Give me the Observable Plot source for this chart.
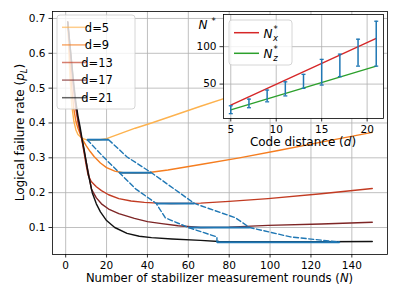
<!DOCTYPE html>
<html><head><meta charset="utf-8">
<script src="https://cdn.jsdelivr.net/npm/d3@7"></script>
<script src="https://cdn.jsdelivr.net/npm/@observablehq/plot@0.6"></script>
<style>
body{margin:0;background:#fff;}
#wrap{position:relative;width:399px;height:299px;font-family:"DejaVu Sans";}
#wrap svg{position:absolute;left:0;top:0;}
</style></head>
<body><div id="wrap"></div>
<script>
// ---- main chart data: logical failure rate vs rounds ----
const distances = [5, 9, 13, 17, 21];
const lineColors = ["#fdb24e", "#f57d1f", "#c23b22", "#7d2525", "#111111"];
const curveD5 = [[1,0.69],[2,0.54],[3,0.45],[4,0.405],[5,0.38],[6,0.367],[8,0.356],[10,0.352],[13,0.35],[17,0.352],[20,0.355],[26,0.368],[34,0.385],[42,0.4],[56,0.428],[66,0.448],[80,0.475],[100,0.513],[125,0.56],[150,0.606]];
const curveD9 = [[1,0.69],[2,0.59],[3,0.5],[4,0.44],[5,0.405],[6,0.385],[7,0.37],[8,0.355],[9,0.345],[10,0.335],[12,0.318],[14,0.303],[17,0.285],[20,0.272],[24,0.262],[28,0.257],[34,0.256],[40,0.257],[50,0.265],[66,0.281],[85,0.3],[104,0.321],[125,0.345],[150,0.373]];
const curveD13 = [[1,0.69],[2,0.62],[3,0.55],[4,0.49],[5,0.44],[6,0.405],[7,0.375],[8,0.35],[9,0.315],[10,0.28],[11,0.25],[12.5,0.232],[15,0.217],[17.5,0.206],[21,0.194],[26,0.183],[32,0.176],[38.5,0.172],[45,0.17],[51.5,0.169],[66,0.17],[80,0.175],[99,0.183],[125,0.197],[150,0.212]];
const curveD17 = [[1,0.69],[2,0.63],[3,0.565],[4,0.5],[5,0.45],[6,0.41],[7,0.38],[8,0.35],[9,0.32],[10,0.29],[11,0.26],[12.6,0.21],[15,0.185],[17.5,0.168],[21,0.153],[26,0.14],[33.6,0.126],[40,0.117],[47,0.111],[55,0.105],[66,0.1],[80,0.101],[99,0.106],[125,0.11],[150,0.115]];
const curveD21 = [[1,0.69],[2,0.63],[3,0.57],[4,0.51],[5,0.46],[6,0.42],[7,0.39],[8,0.355],[9,0.325],[10,0.29],[11,0.255],[12,0.228],[13,0.2],[15,0.168],[17,0.145],[20,0.12],[24,0.1],[30,0.083],[36,0.075],[42,0.071],[52,0.067],[66,0.063],[75,0.06],[100,0.059],[125,0.059],[150,0.06]];
const curves = [curveD5, curveD9, curveD13, curveD17, curveD21];
const xTicks = [0, 20, 40, 60, 80, 100, 120, 140];
const yTicks = [0.1, 0.2, 0.3, 0.4, 0.5, 0.6, 0.7];

// ---- optimal-rounds window per distance (inset + blue marks) ----
const insetD = [5, 7, 9, 11, 13, 15, 17, 19, 21];
const nLower = [10.5, 18.4, 26.3, 34.2, 44.3, 48.7, 60, 74, 74];
const nUpper = [21, 29.9, 42, 53, 63, 83, 90, 110, 134];
const pMin = [0.352, 0.303, 0.257, 0.211, 0.169, 0.128, 0.100, 0.073, 0.058];
const fitD = [5, 21];
const fitNx = [22, 111];
const fitNz = [15.5, 74];
const insetXTicks = [5, 10, 15, 20];
const insetYTicks = [50, 100];

const blue = "#1f77b4";
const rows = distances.flatMap((d, i) => curves[i].map(([n, p]) => ({d, n, p})));
const win = insetD.map((d, i) => ({d, lo: nLower[i], hi: nUpper[i], p: pMin[i]}));
const winShown = win.filter(r => distances.includes(r.d));

const fontStyle = {fontFamily: "DejaVu Sans", fontSize: "10.5px", background: "transparent", overflow: "visible"};

const main = Plot.plot({
  width: 399, height: 299,
  marginLeft: 52, marginRight: 12, marginTop: 11, marginBottom: 45,
  style: fontStyle,
  x: {domain: [-6.45, 157.45]},
  y: {domain: [0.0225, 0.72]},
  color: {domain: distances, range: lineColors},
  marks: [
    Plot.gridX(xTicks, {stroke: "#b0b0b0", strokeOpacity: 1, strokeWidth: 0.8}),
    Plot.gridY(yTicks, {stroke: "#b0b0b0", strokeOpacity: 1, strokeWidth: 0.8}),
    Plot.line(rows, {x: "n", y: "p", z: "d", stroke: "d", strokeWidth: 1.4}),
    Plot.line(win, {x: "lo", y: "p", stroke: blue, strokeWidth: 1.4, strokeDasharray: "5,2.6"}),
    Plot.line(win, {x: "hi", y: "p", stroke: blue, strokeWidth: 1.4, strokeDasharray: "5,2.6"}),
    Plot.link(winShown, {x1: "lo", x2: "hi", y1: "p", y2: "p", stroke: blue, strokeWidth: 2}),
    Plot.axisX(xTicks, {tickSize: 3.5, tickPadding: 3.5, strokeWidth: 0.8, label: null}),
    Plot.axisY(yTicks, {tickSize: 3.5, tickPadding: 3.5, strokeWidth: 0.8, label: null, tickFormat: d => d.toFixed(1)}),
    Plot.frame({stroke: "black", strokeWidth: 0.8})
  ]
});

// main legend and axis labels
{
  const s = d3.select(main);
  const g = s.append("g").attr("font-family", "DejaVu Sans").attr("font-size", "11.5px");
  g.append("rect").attr("x", 57).attr("y", 15).attr("width", 78).attr("height", 94).attr("rx", 3)
    .attr("fill", "white").attr("fill-opacity", 0.8).attr("stroke", "#cccccc").attr("stroke-width", 0.8);
  distances.forEach((d, i) => {
    const y = 27.3 + i * 17.6;
    g.append("line").attr("x1", 62).attr("x2", 87).attr("y1", y).attr("y2", y)
      .attr("stroke", lineColors[i]).attr("stroke-width", 1.5).attr("stroke-opacity", 0.65);
    g.append("text").attr("x", 97).attr("y", y + 4.2).text("d=" + d);
  });
  const xl = s.append("text").attr("x", 219.5).attr("y", 282).attr("text-anchor", "middle")
    .attr("font-family", "DejaVu Sans").attr("font-size", "11.6px");
  xl.append("tspan").text("Number of stabilizer measurement rounds (");
  xl.append("tspan").attr("font-style", "italic").text("N");
  xl.append("tspan").text(")");
  const yl = s.append("text").attr("transform", "translate(24,132.5) rotate(-90)").attr("text-anchor", "middle")
    .attr("font-family", "DejaVu Sans").attr("font-size", "12px");
  yl.append("tspan").text("Logical failure rate (");
  yl.append("tspan").attr("font-style", "italic").text("p");
  yl.append("tspan").attr("font-style", "italic").attr("font-size", "8.5px").attr("dy", 2.5).text("L");
  yl.append("tspan").attr("dy", -2.5).text(")");
}

const inset = Plot.plot({
  width: 399, height: 299,
  marginLeft: 223, marginRight: 16, marginTop: 14, marginBottom: 181,
  style: fontStyle,
  x: {domain: [4.2, 21.8]},
  y: {domain: [4, 143]},
  marks: [
    Plot.frame({fill: "white"}),
    Plot.gridX(insetXTicks, {stroke: "#b0b0b0", strokeOpacity: 1, strokeWidth: 0.8}),
    Plot.gridY(insetYTicks, {stroke: "#b0b0b0", strokeOpacity: 1, strokeWidth: 0.8}),
    Plot.line(fitD.map((d, i) => ({d, n: fitNx[i]})), {x: "d", y: "n", stroke: "#d62728", strokeWidth: 1.4}),
    Plot.line(fitD.map((d, i) => ({d, n: fitNz[i]})), {x: "d", y: "n", stroke: "#2ca02c", strokeWidth: 1.4}),
    Plot.ruleX(win, {x: "d", y1: "lo", y2: "hi", stroke: blue, strokeWidth: 1.5}),
    Plot.link(win, {x1: r => r.d - 0.22, x2: r => r.d + 0.22, y1: "lo", y2: "lo", stroke: blue, strokeWidth: 1.3}),
    Plot.link(win, {x1: r => r.d - 0.22, x2: r => r.d + 0.22, y1: "hi", y2: "hi", stroke: blue, strokeWidth: 1.3}),
    Plot.axisX(insetXTicks, {tickSize: 3.5, tickPadding: 3.5, strokeWidth: 0.8, label: null}),
    Plot.axisY(insetYTicks, {tickSize: 3.5, tickPadding: 3.5, strokeWidth: 0.8, label: null}),
    Plot.frame({stroke: "black", strokeWidth: 0.8})
  ]
});

{
  const s = d3.select(inset);
  const g = s.append("g").attr("font-family", "DejaVu Sans");
  g.append("rect").attr("x", 229).attr("y", 20).attr("width", 63).attr("height", 45).attr("rx", 3)
    .attr("fill", "white").attr("fill-opacity", 0.8).attr("stroke", "#cccccc").attr("stroke-width", 0.8);
  const ent = [["#d62728", "x", 32.7], ["#2ca02c", "z", 53.3]];
  ent.forEach(([c, sub, y]) => {
    g.append("line").attr("x1", 234).attr("x2", 259).attr("y1", y).attr("y2", y).attr("stroke", c).attr("stroke-width", 1.5);
    g.append("text").attr("x", 268).attr("y", y + 5).attr("font-size", "12px").attr("font-style", "italic").text("N");
    g.append("text").attr("x", 275.5).attr("y", y + 7.8).attr("font-size", "8.5px").attr("font-style", "italic").text(sub);
    g.append("text").attr("x", 275.5).attr("y", y - 1).attr("font-size", "8.5px").text("*");
  });
  s.append("text").attr("x", 203).attr("y", 28.5).attr("font-family", "DejaVu Sans").attr("font-size", "12px")
    .attr("font-style", "italic").text("N");
  s.append("text").attr("x", 213.5).attr("y", 23.5).attr("font-family", "DejaVu Sans").attr("font-size", "8.5px").text("*");
  const xl = s.append("text").attr("x", 303).attr("y", 146).attr("text-anchor", "middle")
    .attr("font-family", "DejaVu Sans").attr("font-size", "12px");
  xl.append("tspan").text("Code distance (");
  xl.append("tspan").attr("font-style", "italic").text("d");
  xl.append("tspan").text(")");
}

document.getElementById("wrap").append(main, inset);
</script>
</body></html>
